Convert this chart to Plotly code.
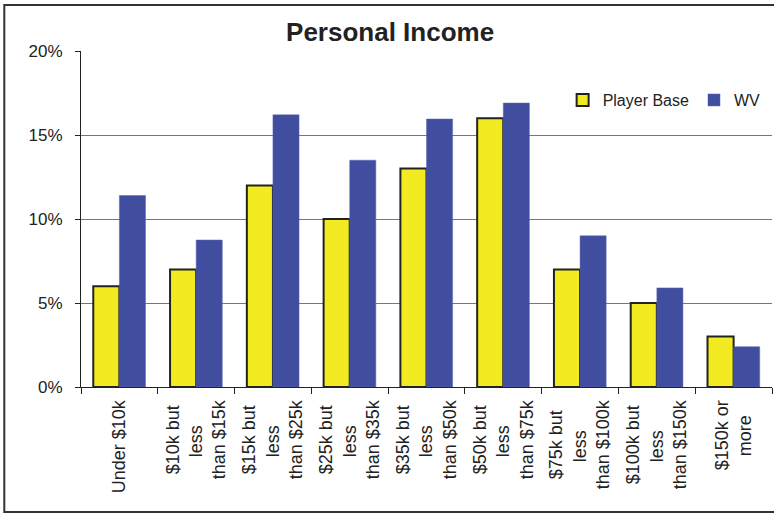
import plotly.graph_objects as go

categories = [
    "Under $10k",
    "$10k but|less|than $15k",
    "$15k but|less|than $25k",
    "$25k but|less|than $35k",
    "$35k but|less|than $50k",
    "$50k but|less|than $75k",
    "$75k but|less|than $100k",
    "$100k but|less|than $150k",
    "$150k or|more",
]
player_base = [6, 7, 12, 10, 13, 16, 7, 5, 3]
wv = [11.4, 8.75, 16.2, 13.5, 15.95, 16.9, 9.0, 5.9, 2.4]
y_ticks = [0, 5, 10, 15, 20]
y_tick_labels = ["0%", "5%", "10%", "15%", "20%"]

FONT = "Liberation Sans, Arial, sans-serif"

# approximate Arial advance widths (em) used to centre the lines of the
# rotated, multi-line tick labels (Plotly end-anchors them otherwise)
_W = {c: 0.556 for c in "0123456789$ahnbu"}
_W.update({"k": 0.5, "s": 0.5, "e": 0.556, "l": 0.222, "t": 0.278, " ": 0.278,
           "o": 0.556, "r": 0.333, "m": 0.833, "U": 0.722, "d": 0.556})
NBSP_W = 0.278


def centred(label):
    lines = label.split("|")
    widths = [sum(_W.get(c, 0.556) for c in ln) for ln in lines]
    wmax = max(widths)
    out = []
    for ln, w in zip(lines, widths):
        n = int(round((wmax - w) / 2 / NBSP_W))
        out.append(ln + "\u00a0" * n)
    return "<br>".join(out)


tick_text = [centred(c) for c in categories]

fig = go.Figure()
fig.add_trace(go.Bar(
    x=tick_text, y=player_base, name="Player Base",
    marker=dict(color="#F2EB22", line=dict(color="#222222", width=2)),
))
fig.add_trace(go.Bar(
    x=tick_text, y=wv, name="WV",
    marker=dict(color="#414E9F", line=dict(color="#5866B0", width=0.5)),
))

fig.update_layout(
    width=774, height=514,
    margin=dict(l=81, r=2, t=51, b=127),
    paper_bgcolor="white", plot_bgcolor="white",
    barmode="group", bargap=0.32, bargroupgap=0,
    font=dict(family=FONT, size=17, color="#222222"),
    title=dict(text="<b>Personal Income</b>", x=0.504, xanchor="center",
               y=0.938, yanchor="middle", font=dict(size=26, color="#222222")),
    showlegend=True,
    legend=dict(orientation="h", x=0.697, y=0.854, xanchor="left", yanchor="middle",
                bgcolor="rgba(0,0,0,0)", font=dict(size=16), itemwidth=30,
                traceorder="normal"),
    xaxis=dict(
        tickangle=-90, tickson="boundaries", ticks="outside", ticklen=6,
        tickcolor="#222222", showline=True, linecolor="#222222", linewidth=1,
        showgrid=False, tickfont=dict(size=18), ticklabelstandoff=5,
        automargin=False,
    ),
    yaxis=dict(
        range=[0, 20], tickvals=y_ticks, ticktext=y_tick_labels,
        ticks="outside", ticklen=5, tickcolor="#222222",
        showline=True, linecolor="#222222", linewidth=1,
        showgrid=True, gridcolor="#777777", gridwidth=1,
        zeroline=False, tickfont=dict(size=17), ticklabelstandoff=9,
        automargin=False,
    ),
)

fig.add_shape(type="rect", xref="paper", yref="paper",
              x0=-0.111, x1=1.01, y0=-0.372, y1=1.137,
              line=dict(color="#333333", width=2), layer="above")

fig.write_html("out.html", config={"displayModeBar": False},
               post_script="document.body.style.margin='0';")
